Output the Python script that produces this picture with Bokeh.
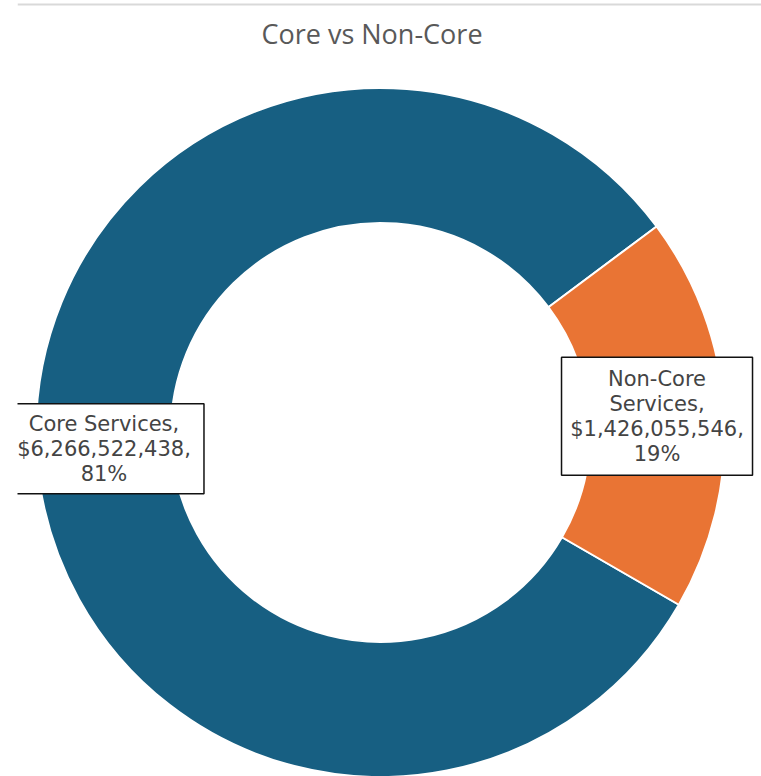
import math
from bokeh.plotting import figure
from bokeh.models import Range1d, ColumnDataSource
from bokeh.core.properties import value
from bokeh.embed import file_html
from bokeh.resources import INLINE

# ---- data ----
categories = ["Core Services", "Non-Core Services"]
label_names = ["Core Services,", "Non-Core\nServices,"]
amounts = [6266522438, 1426055546]
colors = ["#175f82", "#e97434"]
chart_title = "Core vs Non-Core"

# ---- layout (pixels) ----
W, H = 761, 776
LEFT = 17
CX, CY = 380, H - 432
R_OUT, R_IN = 344.5, 209.5
START_DEG = -30.0
BOX_W = [200, 191]

total = float(sum(amounts))
fracs = [a / total for a in amounts]

starts, ends, lx, ly, texts, bw, bh = [], [], [], [], [], [], []
cum = 0.0
r_mid = (R_OUT + R_IN) / 2
for i, (name, a, f) in enumerate(zip(label_names, amounts, fracs)):
    a0 = math.radians(START_DEG) - cum * 2 * math.pi
    a1 = a0 - f * 2 * math.pi
    cum += f
    starts.append(a1)
    ends.append(a0)
    mid = (a0 + a1) / 2
    lx.append(CX + r_mid * math.cos(mid))
    ly.append(CY + r_mid * math.sin(mid))
    t = f"{name}\n${a:,},\n{round(f * 100)}%"
    texts.append(t)
    n = t.count("\n") + 1
    bw.append(BOX_W[i])
    bh.append(n * 28 + 6)

src = ColumnDataSource(dict(cat=categories, start=starts, end=ends, color=colors,
                            lx=lx, ly=ly, text=texts, bw=bw, bh=bh,
                            cx=[CX] * 2, cy=[CY] * 2))

p = figure(width=W, height=H, x_range=Range1d(LEFT, W), y_range=Range1d(0, H),
           x_axis_type=None, y_axis_type=None,
           min_border_left=LEFT, min_border_right=0, min_border_top=0, min_border_bottom=0,
           toolbar_location=None, output_backend="svg")
p.grid.visible = False
p.outline_line_color = None
p.background_fill_color = "white"
p.border_fill_color = "white"

# top rule
p.segment(x0=[LEFT], y0=[H - 4], x1=[W], y1=[H - 4], line_color="#d9d9d9", line_width=2)

p.annular_wedge(x="cx", y="cy", inner_radius=R_IN, outer_radius=R_OUT,
                start_angle="start", end_angle="end", direction="anticlock",
                fill_color="color", line_color="white", line_width=2, source=src)

p.rect(x="lx", y="ly", width="bw", height="bh", width_units="screen", height_units="screen",
       fill_color="white", line_color="#111111", line_width=1.5, source=src)
p.text(x="lx", y="ly", text="text", text_align="center", text_baseline="middle",
       text_font=value("DejaVu Sans"), text_font_size="21px", text_color="#444444",
       text_line_height=1.04, source=src)

p.text(x=[371.5], y=[H - 33], text=[chart_title], text_align="center", text_baseline="middle",
       text_font=value("Open Sans"), text_font_size="27px", text_color="#595959")

open("out.html", "w").write(file_html(p, INLINE))
